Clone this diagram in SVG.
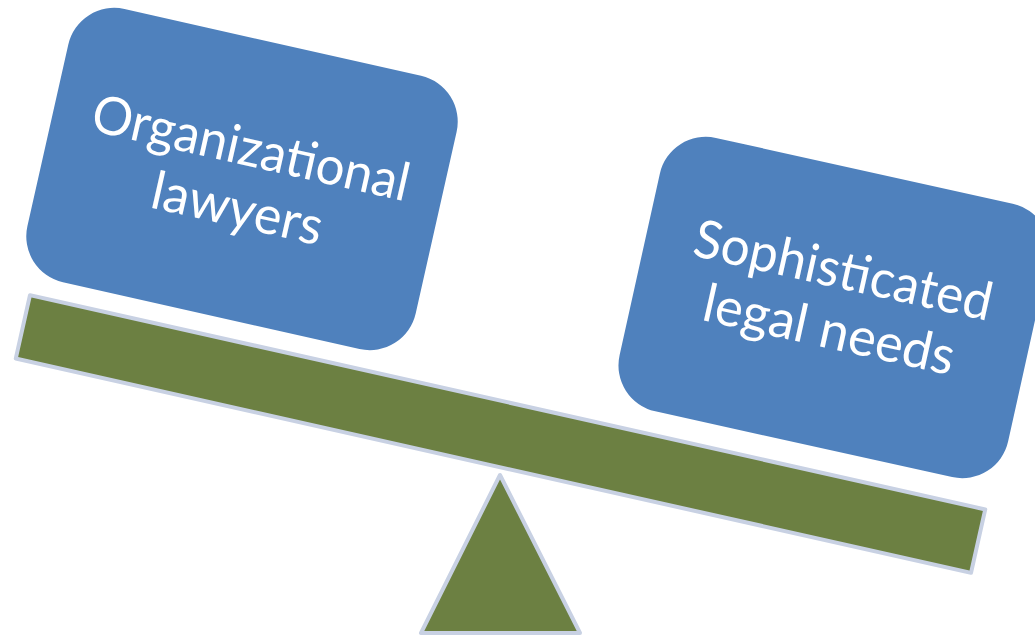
<svg xmlns="http://www.w3.org/2000/svg" width="1035" height="636" viewBox="0 0 1035 636">
  <style>
    .box { fill: #4F81BD; }
    .wood { fill: #6C8042; stroke: #C8D1E3; stroke-width: 4; stroke-linejoin: round; }
    .lbl { font-family: Lato, "Open Sans", "Noto Sans", sans-serif; font-size: 53px; fill: #FFFFFF; text-anchor: middle; }
  </style>
  <rect width="1035" height="636" fill="#FFFFFF"/>
  <g id="fulcrum">
    <polygon class="wood" points="500,475 421,633 580,633"/>
  </g>
  <g id="beam" transform="translate(500.5,434) rotate(12.64)">
    <rect class="wood" x="-489.5" y="-32.5" width="979" height="65"/>
  </g>
  <g id="organizational-lawyers" transform="translate(242,179) rotate(12.7)">
    <rect class="box" x="-199" y="-140" width="398" height="280" rx="47" ry="47"/>
    <text class="lbl" x="2" y="-14" textLength="324" lengthAdjust="spacingAndGlyphs">Organizational</text>
    <text class="lbl" x="2" y="48" textLength="174" lengthAdjust="spacingAndGlyphs">lawyers</text>
  </g>
  <g id="sophisticated-legal-needs" transform="translate(834,307.5) rotate(12.5)">
    <rect class="box" x="-199" y="-140" width="398" height="280" rx="47" ry="47"/>
    <text class="lbl" x="1" y="-20" textLength="304" lengthAdjust="spacingAndGlyphs">Sophisticated</text>
    <text class="lbl" x="0" y="41" textLength="256" lengthAdjust="spacingAndGlyphs">legal needs</text>
  </g>
</svg>
